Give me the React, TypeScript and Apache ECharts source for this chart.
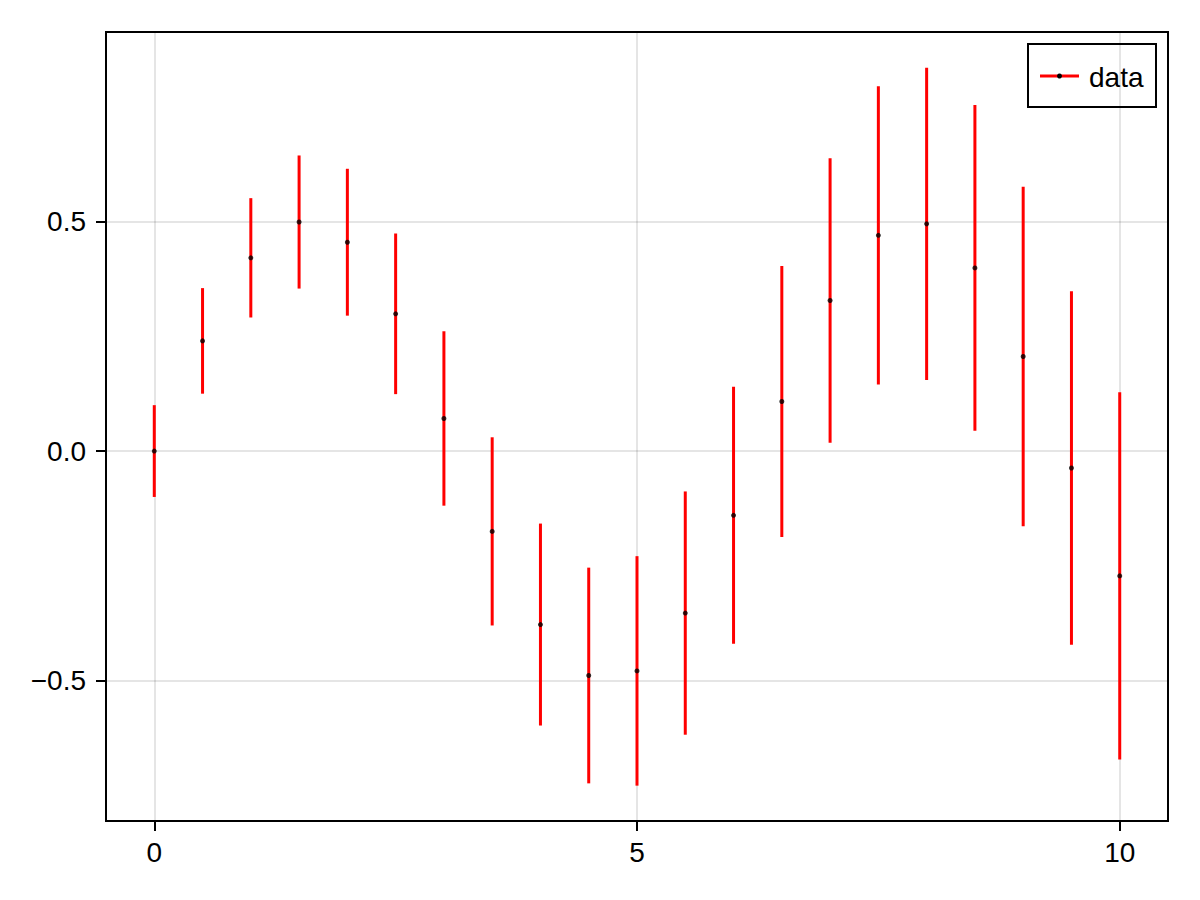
import React, { useEffect, useRef } from 'react';
import * as echarts from 'echarts';

const xs = [0, 0.5, 1, 1.5, 2, 2.5, 3, 3.5, 4, 4.5, 5, 5.5, 6, 6.5, 7, 7.5, 8, 8.5, 9, 9.5, 10];
const values = [
  0, 0.24, 0.421, 0.499, 0.455, 0.299, 0.071, -0.175, -0.378, -0.489, -0.479,
  -0.353, -0.14, 0.108, 0.328, 0.47, 0.495, 0.399, 0.206, -0.037, -0.272,
];
const errors = [
  0.1, 0.115, 0.13, 0.145, 0.16, 0.175, 0.19, 0.205, 0.22, 0.235, 0.25,
  0.265, 0.28, 0.295, 0.31, 0.325, 0.34, 0.355, 0.37, 0.385, 0.4,
];
const xTicks = [0, 5, 10];
const yTicks = [-0.5, 0, 0.5];

const FONT = '"Liberation Sans", Arial, sans-serif';
const GRID_COLOR = 'rgba(0,0,0,0.1)';

const App = () => {
  const chartRef = useRef<HTMLDivElement>(null);

  useEffect(() => {
    const chart = echarts.init(chartRef.current, null, { renderer: 'svg' });

    const bars = xs.map((x, i) => [x, values[i] - errors[i], values[i] + errors[i]]);
    const points = xs.map((x, i) => [x, values[i]]);

    const options = {
      animation: false,
      backgroundColor: '#fff',
      textStyle: { fontFamily: FONT },
      grid: {
        left: 106,
        right: 32,
        top: 32,
        bottom: 79,
        show: true,
        borderColor: '#000',
        borderWidth: 2,
        backgroundColor: '#fff',
      },
      xAxis: {
        type: 'value',
        min: -0.5,
        max: 10.5,
        axisLine: { show: false, onZero: false },
        axisTick: {
          show: true,
          inside: false,
          length: 10,
          customValues: xTicks,
          lineStyle: { color: '#000', width: 2 },
        },
        axisLabel: {
          customValues: xTicks,
          margin: 17,
          color: '#000',
          fontSize: 28,
          fontFamily: FONT,
          formatter: (v: number) => String(v),
        },
        splitLine: { show: true, lineStyle: { color: GRID_COLOR, width: 2 } },
      },
      yAxis: {
        type: 'value',
        min: -0.806,
        max: 0.913,
        axisLine: { show: false, onZero: false },
        axisTick: {
          show: true,
          inside: false,
          length: 10,
          customValues: yTicks,
          lineStyle: { color: '#000', width: 2 },
        },
        axisLabel: {
          customValues: yTicks,
          margin: 20,
          color: '#000',
          fontSize: 28,
          fontFamily: FONT,
          formatter: (v: number) => v.toFixed(1).replace('-', '\u2212'),
        },
        splitLine: { show: true, lineStyle: { color: GRID_COLOR, width: 2 } },
      },
      series: [
        {
          name: 'data',
          type: 'custom',
          data: bars,
          renderItem: (params: any, api: any) => {
            const lo = api.coord([api.value(0), api.value(1)]);
            const hi = api.coord([api.value(0), api.value(2)]);
            return {
              type: 'line',
              shape: { x1: lo[0], y1: lo[1], x2: hi[0], y2: hi[1] },
              style: { stroke: '#ff0000', lineWidth: 3 },
            };
          },
        },
        {
          name: 'points',
          type: 'scatter',
          data: points,
          symbol: 'circle',
          symbolSize: 5,
          itemStyle: { color: '#000' },
          z: 5,
        },
      ],
      // legend box, drawn by hand to get the line-with-dot icon
      graphic: [
        {
          type: 'group',
          z: 100,
          children: [
            {
              type: 'rect',
              shape: { x: 1028, y: 44, width: 128, height: 63 },
              style: { fill: '#fff', stroke: '#000', lineWidth: 2 },
            },
            {
              type: 'line',
              shape: { x1: 1040, y1: 76, x2: 1079, y2: 76 },
              style: { stroke: '#ff0000', lineWidth: 3 },
            },
            {
              type: 'circle',
              shape: { cx: 1059.5, cy: 76, r: 2.5 },
              style: { fill: '#000' },
            },
            {
              type: 'text',
              x: 1089,
              y: 77,
              style: {
                text: 'data',
                fill: '#000',
                fontSize: 28,
                fontFamily: FONT,
                verticalAlign: 'middle',
                align: 'left',
              },
            },
          ],
        },
      ],
    };

    chart.setOption(options);

    return () => {
      chart.dispose();
    };
  }, []);

  return (
    <div
      ref={chartRef}
      style={{ position: 'absolute', left: 0, top: 0, width: '1200px', height: '900px' }}
    ></div>
  );
};

export default App;
